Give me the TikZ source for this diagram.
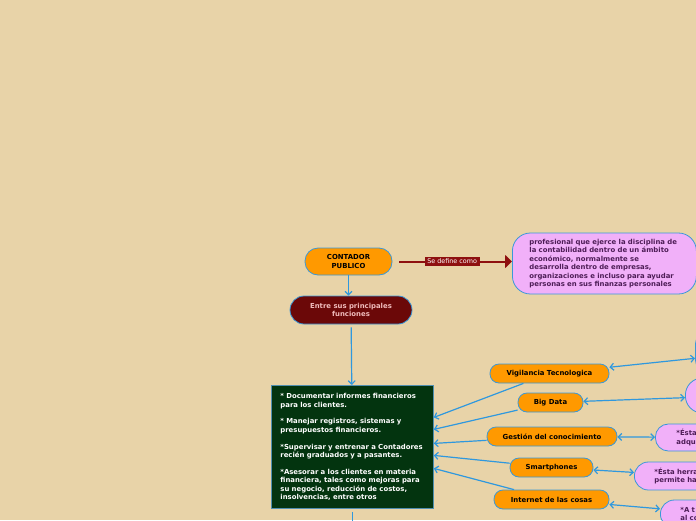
\documentclass[tikz,border=0pt]{standalone}
\usepackage{fontspec}
\setmainfont{DejaVu Sans}
\usetikzlibrary{arrows.meta,calc}
\definecolor{bgc}{HTML}{E8D3A8}
\definecolor{orangec}{HTML}{FF9900}
\definecolor{nodeblue}{HTML}{3A98D8}
\definecolor{linkblue}{HTML}{2F98DE}
\definecolor{pinkc}{HTML}{F1B0F9}
\definecolor{pinktext}{HTML}{4E1D57}
\definecolor{maroonc}{HTML}{6B0808}
\definecolor{maroontext}{HTML}{F0BCBC}
\definecolor{greenc}{HTML}{03340F}
\definecolor{greenborder}{HTML}{4F8FB0}
\definecolor{darkredc}{HTML}{8E1010}
\begin{document}
\begin{tikzpicture}[x=1pt,y=-1pt,
  txt/.style={font=\fontsize{6.9}{8.4}\selectfont\bfseries},
  orangebox/.style={txt, draw=nodeblue, line width=0.8pt, fill=orangec, rounded corners=9pt, minimum height=19pt, inner sep=0pt, text=black},
  pinkbox/.style={txt, draw=nodeblue, line width=0.8pt, fill=pinkc, text=pinktext, align=left, text width=80pt, inner xsep=21pt, inner ysep=3pt, anchor=west},
  link/.style={draw=linkblue, line width=1.2pt, -{Straight Barb[length=3.5pt,width=7pt]}},
  dlink/.style={draw=linkblue, line width=1.2pt, {Straight Barb[length=3.5pt,width=7pt]}-{Straight Barb[length=3.5pt,width=7pt]}}
]
\useasboundingbox (0,0) rectangle (696,520);
\clip (0,0) rectangle (696,520);
\fill[bgc] (0,0) rectangle (696,520);

% main nodes
\node[orangebox, minimum width=87pt, minimum height=27pt, rounded corners=13pt, align=center] (contador) at (348.5,261.5) {CONTADOR\\PUBLICO};
\node[txt, draw=nodeblue, line width=0.8pt, fill=maroonc, text=maroontext, minimum width=122pt, minimum height=28pt, rounded corners=14pt, align=center, inner sep=0pt] (entre) at (351,310) {Entre sus principales\\funciones};
\node[txt, draw=nodeblue, line width=0.8pt, fill=pinkc, text=pinktext, rounded corners=18pt, align=left, text width=150pt, inner xsep=17pt, minimum height=61pt, anchor=west] (def) at (512,263.5) {profesional que ejerce la disciplina de\\la contabilidad dentro de un ámbito\\económico, normalmente se\\desarrolla dentro de empresas,\\organizaciones e incluso para ayudar\\personas en sus finanzas personales};
\node[txt, draw=greenborder, line width=0.8pt, fill=greenc, text=white, align=left, text width=144pt, inner xsep=9pt, inner ysep=3pt, minimum height=123pt, anchor=north west] (green) at (271,385) {* Documentar informes financieros\\para los clientes.\\[8.4pt]* Manejar registros, sistemas y\\presupuestos financieros.\\[8.4pt]*Supervisar y entrenar a Contadores\\recién graduados y a pasantes.\\[8.4pt]*Asesorar a los clientes en materia\\financiera, tales como mejoras para\\su negocio, reducción de costos,\\insolvencias, entre otros};

% orange nodes
\node[orangebox, minimum width=119pt] (vig) at (549.5,373.5) {Vigilancia Tecnologica};
\node[orangebox, minimum width=65pt] (big) at (550.5,402.5) {Big Data};
\node[orangebox, minimum width=130pt] (ges) at (552,436.5) {Gestión del conocimiento};
\node[orangebox, minimum width=83pt] (sma) at (551.5,467.5) {Smartphones};
\node[orangebox, minimum width=115pt] (iot) at (551.5,499.5) {Internet de las cosas};

% pink nodes on the right (partly outside)
\node[draw=nodeblue, line width=0.8pt, fill=pinkc, rounded corners=10pt, minimum width=120pt, minimum height=36pt, anchor=west] (pa) at (695,352) {};
\node[draw=nodeblue, line width=0.8pt, fill=pinkc, rounded corners=17pt, minimum width=120pt, minimum height=35pt, anchor=west] (pb) at (685,395.5) {};
\node[pinkbox, rounded corners=13pt, minimum height=27pt] (pc) at (655,437.5) {*Ésta\\adqui};
\node[pinkbox, rounded corners=14pt, minimum height=28pt, inner xsep=20pt] (pd) at (634,476) {*Ésta herra\\permite ha};
\node[pinkbox, rounded corners=14pt, minimum height=28pt, inner xsep=20pt] (pe) at (660,514) {*A t\\al co};

% coordinates
\coordinate (g1) at ($(green.east)+(0,-29.5)$);
\coordinate (g2) at ($(green.east)+(0,-17.5)$);
\coordinate (g3) at ($(green.east)+(0,-3.5)$);
\coordinate (g4) at ($(green.east)+(0,8.5)$);
\coordinate (g5) at ($(green.east)+(0,21.5)$);
\coordinate (below) at ($(green.south)+(0,30)$);

% connectors
\draw[darkredc, line width=2pt, shorten <=7pt, -{Triangle[length=7pt,width=13pt]}] (contador.east) -- (contador.east -| def.west)
  node[midway, fill=darkredc, text=white, font=\fontsize{6.4}{7}\selectfont, inner xsep=2.5pt, inner ysep=2.5pt] (lbl) {Se define como};
\draw[link] (contador) -- (contador |- entre.north);
\draw[link, shorten <=3pt] (entre) -- (green);
\draw[draw=linkblue, line width=1.2pt, shorten <=3pt] (green.south) -- (below);
\draw[link] (vig) -- (g1);
\draw[link] (big) -- (g2);
\draw[link] (ges) -- (g3);
\draw[link] (sma) -- (g4);
\draw[link] (iot) -- (g5);
\draw[dlink] (vig) -- (pa);
\draw[dlink] (big) -- (pb);
\draw[dlink] (ges) -- (pc);
\draw[dlink] (sma) -- (pd);
\draw[dlink] (iot) -- (pe);
\end{tikzpicture}
\end{document}
